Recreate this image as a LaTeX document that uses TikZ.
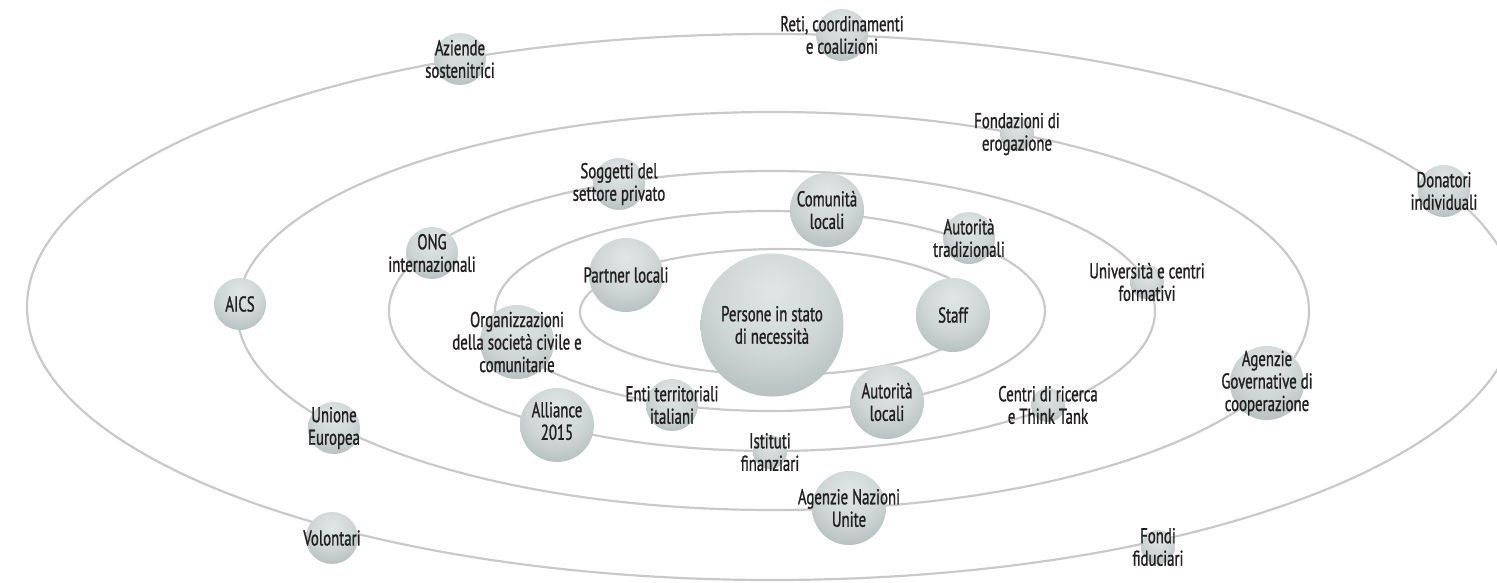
\documentclass[tikz,border=0pt]{standalone}
\usepackage{fontspec}
\setmainfont{PT Sans}[FakeStretch=0.69,FakeBold=1]
\usepackage{xcolor}

\definecolor{orbhi}{HTML}{E0E6E5}
\definecolor{orbmid}{HTML}{B9C4C3}
\definecolor{orblo}{HTML}{8F9E9C}
\definecolor{orbitgray}{HTML}{C9C9C9}
\definecolor{ink}{HTML}{231F20}
\pgfdeclareradialshading{orbshade}{\pgfpoint{0bp}{12bp}}{color(0bp)=(orbhi); color(20bp)=(orbhi!55!orbmid); color(42bp)=(orbmid!55!orblo); color(62bp)=(orblo); color(100bp)=(orblo)}

\begin{document}
\begin{tikzpicture}[
                x=1pt,y=-1pt,
                orbit/.style={draw=orbitgray,line width=2.2pt},
                orb/.style={circle,shading=orbshade,inner sep=0pt,minimum size=#1},
                txt/.style={font=\fontsize{21.5}{22.5}\selectfont,align=center,text=ink,inner sep=0pt}
            ]
                \useasboundingbox (0,0) rectangle (1497,582);

                % orbits, outer to inner
                \draw[orbit] (772,307) ellipse [x radius=745pt, y radius=273pt];
                \draw[orbit] (773,311) ellipse [x radius=536pt, y radius=199pt];
                \draw[orbit] (772,311) ellipse [x radius=383pt, y radius=140pt];
                \draw[orbit] (770,311) ellipse [x radius=275pt, y radius=100pt];
                \draw[orbit] (780,312) ellipse [x radius=200pt, y radius=63pt];

                % centre
                \node[orb=143pt] (persone) at (772,325) {};

                % inner orbit
                \node[orb=74pt] (partner) at (626,275) {};
                \node[orb=74pt] (staff)   at (953,315) {};

                % second orbit
                \node[orb=74pt] (comunita) at (827,210) {};
                \node[orb=52pt] (tradiz)   at (969,238) {};
                \node[orb=74pt] (osc)      at (517,342) {};
                \node[orb=52pt] (enti)     at (672,405) {};
                \node[orb=74pt] (autloc)   at (887,402) {};

                % third orbit
                \node[orb=52pt] (soggetti) at (619,184) {};
                \node[orb=52pt] (ong)      at (432,253) {};
                \node[orb=74pt] (alliance) at (557,425) {};
                \node[orb=34pt] (istituti) at (770,452) {};
                \node[orb=34pt] (centri)   at (1048,405) {};
                \node[orb=34pt] (univ)     at (1147,282) {};

                % fourth orbit
                \node[orb=34pt] (fondaz)   at (1017,134) {};
                \node[orb=52pt] (aics)     at (240,304) {};
                \node[orb=52pt] (ue)       at (334,428) {};
                \node[orb=74pt] (onu)      at (849,508) {};
                \node[orb=74pt] (agov)     at (1267,383) {};

                % outer orbit
                \node[orb=52pt] (reti)     at (842,35) {};
                \node[orb=52pt] (aziende)  at (460,59) {};
                \node[orb=52pt] (donatori) at (1444,191) {};
                \node[orb=52pt] (volontari) at (332,538) {};
                \node[orb=34pt] (fondi)    at (1158,547) {};

                % labels
                \node[txt] (persone-t)  at (persone)  {Persone in stato\\di necessità};
                \node[txt] (partner-t)  at (partner)  {Partner locali};
                \node[txt] (staff-t)    at (staff)    {Staff};
                \node[txt] (comunita-t) at (comunita) {Comunità\\locali};
                \node[txt] (tradiz-t)   at (tradiz)   {Autorità\\tradizionali};
                \node[txt] (osc-t)      at (osc)      {Organizzazioni\\della società civile e\\comunitarie};
                \node[txt] (enti-t)     at (enti)     {Enti territoriali\\italiani};
                \node[txt] (autloc-t)   at (autloc)   {Autorità\\locali};
                \node[txt] (soggetti-t) at (soggetti) {Soggetti del\\settore privato};
                \node[txt] (ong-t)      at (ong)      {ONG\\internazionali};
                \node[txt] (alliance-t) at ([yshift=4pt]alliance) {Alliance\\2015};
                \node[txt] (istituti-t) at (istituti) {Istituti\\finanziari};
                \node[txt] (centri-t)   at (centri)   {Centri di ricerca\\e Think Tank};
                \node[txt] (univ-t)     at (univ)     {Università e centri\\formativi};
                \node[txt] (fondaz-t)   at (fondaz)   {Fondazioni di\\erogazione};
                \node[txt] (aics-t)     at (aics)     {AICS};
                \node[txt] (ue-t)       at (ue)       {Unione\\Europea};
                \node[txt] (onu-t)      at (onu)      {Agenzie Nazioni\\Unite};
                \node[txt] (agov-t)     at (agov)     {Agenzie\\Governative di\\cooperazione};
                \node[txt] (reti-t)     at (reti)     {Reti, coordinamenti\\e coalizioni};
                \node[txt] (aziende-t)  at (aziende)  {Aziende\\sostenitrici};
                \node[txt] (donatori-t) at (donatori) {Donatori\\individuali};
                \node[txt] (volontari-t) at (volontari) {Volontari};
                \node[txt] (fondi-t)    at (fondi)    {Fondi\\fiduciari};
            \end{tikzpicture}
\end{document}
